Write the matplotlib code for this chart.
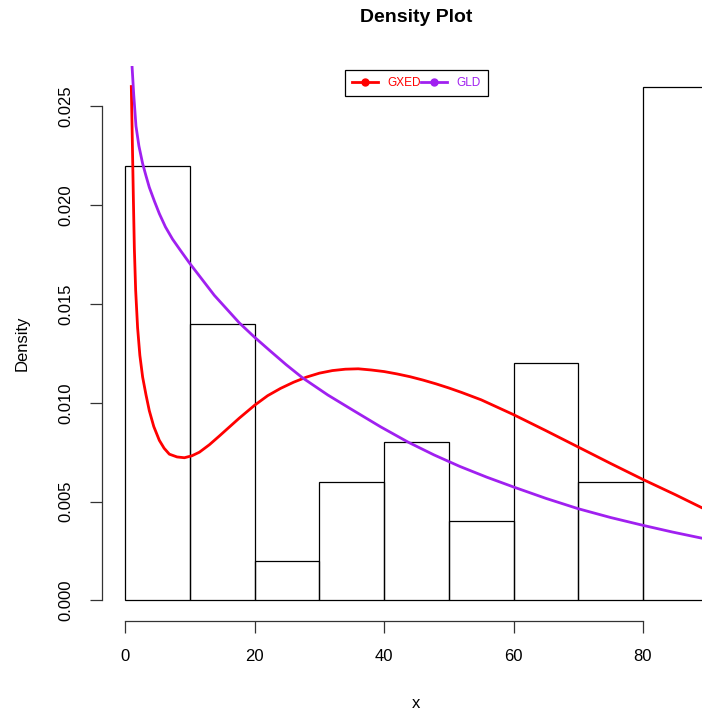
import matplotlib

matplotlib.use("Agg")
import matplotlib.pyplot as plt
import numpy as np

# histogram: bin edges and densities
bin_edges = [0, 10, 20, 30, 40, 50, 60, 70, 80, 90]
bin_density = [0.022, 0.014, 0.002, 0.006, 0.008, 0.004, 0.012, 0.006, 0.026]

# fitted curves
gxed_x = [0.93, 1.1, 1.25, 1.4, 1.6, 1.9, 2.25, 2.68, 3.2, 3.71, 4.4, 5.26, 6.0, 6.81,
          8.0, 9.13, 10.3, 11.45, 13.0, 14.5, 16.1, 17.6, 20.0, 22.0, 24.0, 26.0, 28.0,
          30.0, 32.0, 34.0, 36.0, 38.0, 40.0, 42.0, 44.0, 46.0, 48.0, 50.0, 52.0, 55.0,
          60.0, 65.0, 70.0, 75.0, 80.0, 85.0, 89.1]
gxed_y = [0.0260, 0.0230, 0.0203, 0.0178, 0.0157, 0.0138, 0.0124, 0.0113, 0.0104, 0.0096,
          0.0088, 0.0081, 0.0077, 0.0074, 0.00726, 0.00722, 0.00732, 0.0075, 0.00788, 0.00831,
          0.00878, 0.00922, 0.00988, 0.01036, 0.01073, 0.01104, 0.0113, 0.0115, 0.01163, 0.0117,
          0.01172, 0.01166, 0.01158, 0.01146, 0.01132, 0.01115, 0.01096, 0.01075, 0.01052,
          0.01015, 0.0094, 0.00859, 0.00776, 0.00693, 0.00612, 0.00535, 0.00469]

gld_x = [0.93, 1.03, 1.3, 1.65, 2.1, 2.68, 3.2, 3.71, 4.5, 5.26, 6.2, 7.3, 8.5, 9.9, 13.75,
         17.6, 19.95, 22.3, 24.85, 27.4, 31.3, 35.2, 39.45, 43.7, 47.7, 51.7, 55.85, 60.0,
         65.0, 70.0, 75.0, 80.0, 84.55, 89.1]
gld_y = [0.0278, 0.0271, 0.0256, 0.0240, 0.0230, 0.0221, 0.02148, 0.0209, 0.0202, 0.01957,
         0.0189, 0.01828, 0.01772, 0.01708, 0.01544, 0.01405, 0.013325, 0.01265, 0.01193,
         0.01126, 0.010394, 0.00962, 0.008785, 0.00801, 0.007364, 0.00678, 0.006238,
         0.00574, 0.005164, 0.00464, 0.004195, 0.0038, 0.003461, 0.00315]

x_ticks = [0, 20, 40, 60, 80]
y_ticks = [0.000, 0.005, 0.010, 0.015, 0.020, 0.025]

plt.rcParams["font.family"] = ["Liberation Sans", "DejaVu Sans"]

W, H = 702, 714
fig = plt.figure(figsize=(W / 100, H / 100), dpi=100)
# plot region in pixels: left 102, right 731 (past the edge), top 66, bottom 621
ax = fig.add_axes([102 / W, 1 - 621 / H, 629 / W, (621 - 66) / H])

ax.bar(bin_edges[:-1], bin_density, width=np.diff(bin_edges), align="edge",
       fill=False, edgecolor="black", linewidth=0.9)
ax.plot(gxed_x, gxed_y, color="red", lw=2, solid_joinstyle="round")
ax.plot(gld_x, gld_y, color="#A020F0", lw=2, solid_joinstyle="round")

ax.set_xlim(-3.6, 93.6)
ax.set_ylim(-0.00104, 0.02704)

for s in ("top", "right"):
    ax.spines[s].set_visible(False)
ax.spines["left"].set_bounds(0, 0.025)
ax.spines["bottom"].set_bounds(0, 80)
for s in ("left", "bottom"):
    ax.spines[s].set_linewidth(0.9)
    ax.spines[s].set_color("#333333")

ax.set_xticks(x_ticks)
ax.set_xticklabels([str(v) for v in x_ticks])
ax.set_yticks(y_ticks)
ax.set_yticklabels([f"{v:.3f}" for v in y_ticks])
ax.tick_params(length=8.3, width=0.9, color="#333333", labelsize=12, pad=12)
for lab in ax.get_yticklabels():
    lab.set_rotation(90)
    lab.set_va("center")

# legend with a dot on each line
handles = [plt.Line2D([], [], color="red", lw=2, marker="o", markersize=5),
           plt.Line2D([], [], color="#A020F0", lw=2, marker="o", markersize=5)]
leg = ax.legend(handles, ["GXED", "GLD"], loc="upper center", bbox_to_anchor=(0.5, 1.0),
                ncol=2, fontsize=8.5, handlelength=2.2, handletextpad=0.8, columnspacing=0.0,
                borderaxespad=0.35, borderpad=0.6, fancybox=False, framealpha=1,
                edgecolor="black", labelcolor="linecolor")
leg.get_frame().set_linewidth(0.9)

fig.text(416.5 / W, 1 - 18 / H, "Density Plot", ha="center", va="center",
         fontsize=14, fontweight="bold")
fig.text(416.5 / W, 1 - 703 / H, "x", ha="center", va="center", fontsize=12)
fig.text(22 / W, 1 - 343 / H, "Density", ha="center", va="center", fontsize=12, rotation=90)

fig.savefig("out.png", dpi=100)
plt.close(fig)
